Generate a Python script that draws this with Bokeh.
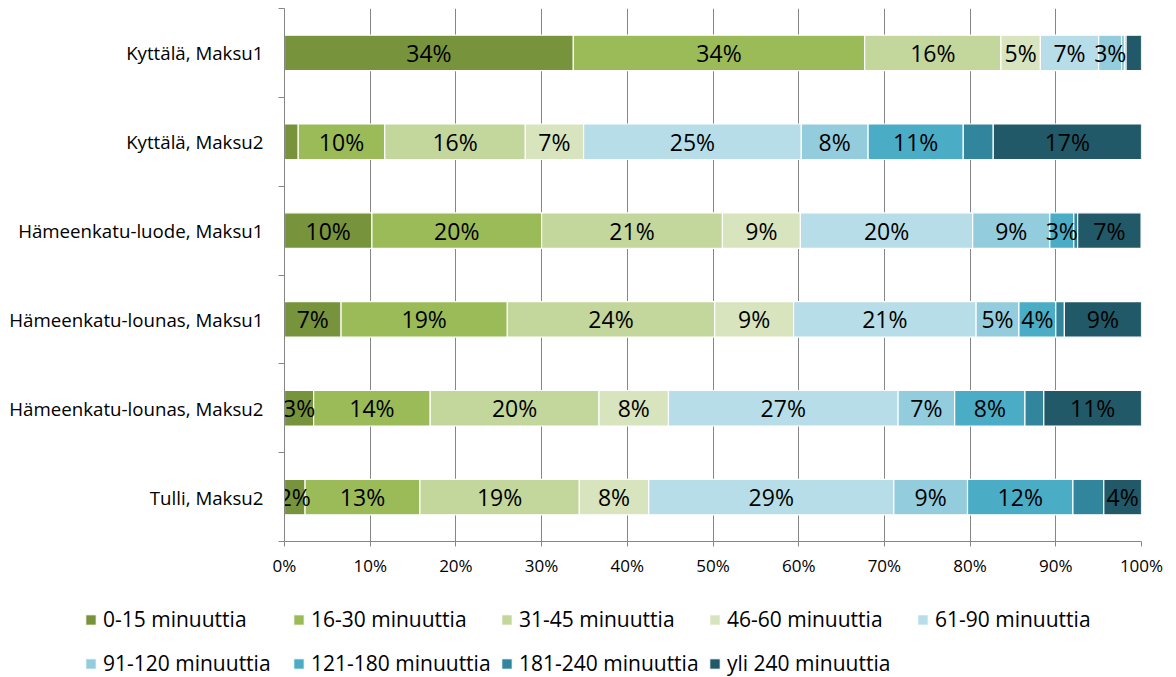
import numpy as np
from bokeh.plotting import figure
from bokeh.layouts import column
from bokeh.models import ColumnDataSource, Range1d, FixedTicker, Legend, LegendItem
from bokeh.core.properties import value
from bokeh.embed import file_html
from bokeh.resources import INLINE

categories = ["Kyttälä, Maksu1", "Kyttälä, Maksu2", "Hämeenkatu-luode, Maksu1",
              "Hämeenkatu-lounas, Maksu1", "Hämeenkatu-lounas, Maksu2", "Tulli, Maksu2"]
series = ["0-15 minuuttia", "16-30 minuuttia", "31-45 minuuttia", "46-60 minuuttia",
          "61-90 minuuttia", "91-120 minuuttia", "121-180 minuuttia",
          "181-240 minuuttia", "yli 240 minuuttia"]
colors = ["#77933C", "#9BBB59", "#C3D69B", "#D7E4BD", "#B7DEE8",
          "#93CDDD", "#4BACC6", "#31859C", "#215968"]

# percentage shares, in category order
v_0_15 = [33.7, 1.6, 10.2, 6.6, 3.4, 2.4]
v_16_30 = [34.0, 10.1, 19.8, 19.4, 13.6, 13.4]
v_31_45 = [15.9, 16.4, 21.1, 24.2, 19.7, 18.6]
v_46_60 = [4.6, 6.8, 9.1, 9.2, 8.1, 8.1]
v_61_90 = [6.8, 25.4, 20.1, 21.3, 26.8, 28.6]
v_91_120 = [2.7, 7.8, 9.0, 5.0, 6.6, 8.6]
v_121_180 = [0.3, 11.1, 2.8, 4.3, 8.2, 12.3]
v_181_240 = [0.2, 3.5, 0.45, 1.0, 2.2, 3.6]
v_yli_240 = [1.8, 17.3, 7.4, 9.0, 11.4, 4.4]

values = [v_0_15, v_16_30, v_31_45, v_46_60, v_61_90, v_91_120, v_121_180, v_181_240, v_yli_240]
unlabelled_series = ["181-240 minuuttia"]
label_min = 2.0

x_ticks = [0, 10, 20, 30, 40, 50, 60, 70, 80, 90, 100]
x_tick_labels = ["0%", "10%", "20%", "30%", "40%", "50%", "60%", "70%", "80%", "90%", "100%"]

FONT = "Open Sans"
GRID = "#868686"

n = len(categories)
ypos = [n - i for i in range(n)]

data = {"y": ypos}
for s, v in zip(series, values):
    data[s] = v
source = ColumnDataSource(data)

p = figure(width=1176, height=583, output_backend="svg", toolbar_location=None,
           x_range=Range1d(0, 100), y_range=Range1d(0.5, n + 0.5),
           min_border_left=284, min_border_right=35, min_border_top=8, min_border_bottom=42)
p.outline_line_color = None
p.background_fill_color = "white"
p.border_fill_color = "white"

renderers = p.hbar_stack(series, y="y", height=0.4, color=colors, source=source,
                         line_color="white", line_width=1.2)

# data labels
lx, ly, lt = [], [], []
for i in range(n):
    cum = 0.0
    for s, v in zip(series, values):
        val = v[i]
        if val >= label_min and s not in unlabelled_series:
            lx.append(cum + val / 2.0)
            ly.append(ypos[i])
            lt.append(f"{round(val)}%")
        cum += val
lab_src = ColumnDataSource(dict(x=lx, y=ly, t=lt))
p.text(x="x", y="y", text="t", source=lab_src, text_align="center", text_baseline="middle",
       text_font=value(FONT), text_font_size="23px", text_color="#000000")

# x axis
p.xaxis.ticker = FixedTicker(ticks=x_ticks)
p.xaxis.major_label_overrides = {t: l for t, l in zip(x_ticks, x_tick_labels)}
p.xaxis.axis_line_color = GRID
p.xaxis.major_tick_line_color = GRID
p.xaxis.major_tick_out = 5
p.xaxis.major_tick_in = 0
p.xaxis.minor_tick_line_color = None
p.xaxis.major_label_text_font = FONT
p.xaxis.major_label_text_font_size = "17px"
p.xaxis.major_label_text_color = "#000000"
p.xaxis.major_label_standoff = 7

# y axis: labels at category centres, ticks at category boundaries
p.yaxis.ticker = FixedTicker(ticks=ypos, minor_ticks=[k + 0.5 for k in range(n + 1)])
p.yaxis.major_label_overrides = {y: c for y, c in zip(ypos, categories)}
p.yaxis.axis_line_color = GRID
p.yaxis.major_tick_line_color = None
p.yaxis.major_tick_out = 0
p.yaxis.major_tick_in = 0
p.yaxis.minor_tick_line_color = GRID
p.yaxis.minor_tick_out = 6
p.yaxis.minor_tick_in = 0
p.yaxis.major_label_text_font = FONT
p.yaxis.major_label_text_font_size = "18.7px"
p.yaxis.major_label_text_color = "#000000"
p.yaxis.major_label_standoff = 15

p.xgrid.grid_line_color = GRID
p.xgrid.grid_line_width = 1
p.ygrid.grid_line_color = None

# legend figure: same stacked series, drawn outside its visible range (swatches only)
pl = figure(width=1176, height=94, output_backend="svg", toolbar_location=None,
            x_range=Range1d(0, 100), y_range=Range1d(100, 101),
            min_border_left=0, min_border_right=0, min_border_top=0, min_border_bottom=0)
pl.axis.visible = False
pl.grid.grid_line_color = None
pl.outline_line_color = None
pl.border_fill_color = "white"
pl.background_fill_color = "white"

for fig in (p, pl):
    if "frame_align" in fig.properties():
        fig.frame_align = False

leg_renderers = pl.hbar_stack(series, y="y", height=0.4, color=colors, source=source,
                              line_color="white")
items = [LegendItem(label=s, renderers=[r]) for s, r in zip(series, leg_renderers)]

def make_legend(its, loc):
    return Legend(items=its, location=loc, orientation="horizontal",
                  glyph_width=13, glyph_height=13, label_standoff=6, spacing=0,
                  label_width=189, label_height=28, padding=0, margin=0,
                  border_line_color=None, background_fill_alpha=0,
                  label_text_font=FONT, label_text_font_size="21px",
                  label_text_color="#000000")

pl.add_layout(make_legend(items[:5], (84, 44)))
pl.add_layout(make_legend(items[5:], (84, 0)))

layout = column(p, pl, spacing=0)
open("out.html", "w").write(file_html(layout, INLINE))
